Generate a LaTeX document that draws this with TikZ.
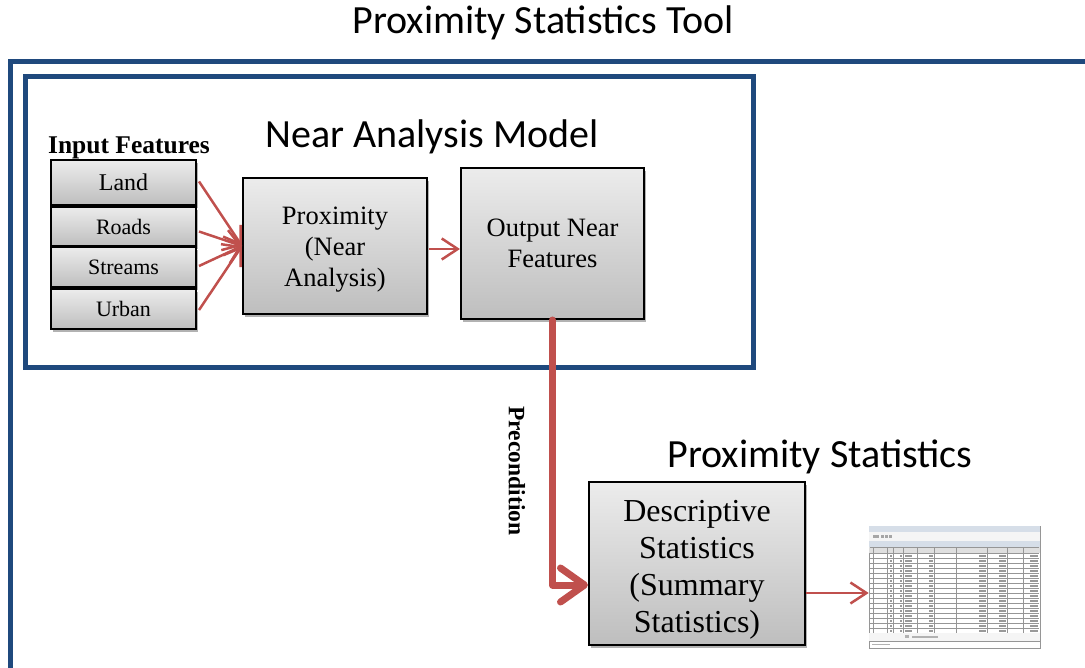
\documentclass[tikz,border=0pt]{standalone}
\usepackage{fontspec}
\setmainfont{Liberation Serif}
\newfontfamily\titlefont{Carlito}
\usetikzlibrary{arrows.meta,shadows,calc}
\definecolor{frameblue}{HTML}{1F497D}
\definecolor{flowred}{HTML}{C0504D}
\definecolor{boxtop}{RGB}{236,236,236}
\definecolor{boxbot}{RGB}{190,190,190}
\definecolor{winbar}{RGB}{214,222,232}
\definecolor{wingrid}{RGB}{150,150,150}

\tikzset{
  frame/.style={draw=frameblue, line width=5pt},
  gbox/.style={draw=black, line width=2pt, top color=boxtop, bottom color=boxbot,
    drop shadow={shadow xshift=2pt, shadow yshift=-3pt, opacity=0.3, fill=black},
    align=center, inner sep=0pt},
  inbox/.style={gbox, minimum width=145, font=\fontsize{22}{26}\selectfont},
  boxtext/.style={align=center, inner sep=0pt},
  heading/.style={font=\titlefont\fontsize{40}{46}\selectfont},
  thinflow/.style={draw=flowred, line width=2.5pt, -{Straight Barb[length=16pt,width=21pt]}},
  thickflow/.style={draw=flowred, line width=7pt, line cap=round, line join=round,
    -{Straight Barb[length=24pt,width=34pt,round]}},
}

\begin{document}
\begin{tikzpicture}[x=1pt, y=-1pt]
\useasboundingbox (0,0) rectangle (1085,668);

% frames
\draw[frame] (1095,62) -- (10,62) -- (10,678);
\draw[frame] (25,77) rectangle (753,368);

% headings
\node[heading] (title) at (543,23) {Proximity Statistics Tool};
\node[heading] (namodel) at (432,137) {Near Analysis Model};
\node[heading] (pstats) at (820,457) {Proximity Statistics};
\node[font=\bfseries\fontsize{25.5}{30}\selectfont] (inlabel) at (129,148) {Input Features};

% input feature boxes
\node[inbox, minimum height=45, font=\fontsize{24}{28}\selectfont] (land) at (123.5,182.5) {\raisebox{-3pt}{Land}};
\node[inbox, minimum height=39] (roads) at (123.5,226.5) {\raisebox{-2pt}{Roads}};
\node[inbox, minimum height=40] (streams) at (123.5,267) {\raisebox{-2pt}{Streams}};
\node[inbox, minimum height=40] (urban) at (123.5,309) {\raisebox{-3pt}{Urban}};

% process boxes
\node[gbox, minimum width=184, minimum height=136] (prox) at (335,246) {};
\node[boxtext, font=\fontsize{26.5}{31}\selectfont] (proxtext) at ([yshift=-4pt]prox.center)
  {Proximity\\(Near\\Analysis)};
\node[gbox, minimum width=183, minimum height=151, font=\fontsize{26.5}{31}\selectfont]
  (outnear) at (552.5,243.5) {Output Near\\Features};
\node[gbox, minimum width=216, minimum height=163] (desc) at (697,563.5) {};
\node[boxtext, font=\fontsize{32}{37}\selectfont] (desctext) at ([yshift=-6pt]desc.center)
  {Descriptive\\Statistics\\(Summary\\Statistics)};

% summary table window
\node[draw=wingrid, line width=0.6pt, fill=white, minimum width=171, minimum height=122, inner sep=0pt]
  (table) at (954.5,587) {};
\fill[winbar] (869,526) rectangle (1040,532);
\fill[gray!8] (869,532) rectangle (1040,541);
\fill[winbar] (869,541) rectangle (1040,547);
\foreach \x in {873,876,881,885,889}
  \fill[gray!70] (\x,535) rectangle ++(2.5,3);
\fill[gray!25] (869,547) rectangle (1040,553);
\foreach \i in {0,...,16}
  \draw[wingrid, line width=0.3pt] (870,553+5*\i) -- (1039,553+5*\i);
\draw[wingrid, line width=0.3pt] (870,547) -- (1039,547);
\foreach \x in {873,887,893,903,917,934,956,987,1007,1023}
  \draw[wingrid, line width=0.3pt] (\x,547) -- (\x,633);
\foreach \i in {0,...,15}{
  \fill[gray!80] (890,554.5+5*\i) rectangle ++(1.5,2);
  \fill[gray!80] (900,554.5+5*\i) rectangle ++(2,2);
  \fill[gray!80] (905,554.5+5*\i) rectangle ++(7,2);
  \fill[gray!80] (929,554.5+5*\i) rectangle ++(4,2);
  \fill[gray!80] (979,554.5+5*\i) rectangle ++(7,2);
  \fill[gray!80] (999,554.5+5*\i) rectangle ++(7,2);
  \fill[gray!80] (1030,554.5+5*\i) rectangle ++(8,2);
}
\fill[gray!8] (869,633) rectangle (1040,641);
\fill[gray!60] (905,635) rectangle ++(4,3);
\fill[gray!60] (912,636) rectangle ++(26,1.5);
\draw[wingrid, line width=0.3pt] (869,641) -- (1040,641);
\fill[gray!60] (872,643.5) rectangle ++(18,1.5);

% connectors
\draw[thinflow] ($(land.east)+(2,-1)$) -- (prox.west);
\draw[thinflow] ($(roads.east)+(2,5)$) -- (prox.west);
\draw[thinflow] ($(streams.east)+(2,-1)$) -- (prox.west);
\draw[thinflow] ($(urban.east)+(2,1)$) -- (prox.west);
\draw[thinflow] ($(prox.east)+(1,3)$) -- ($(outnear.west)+(0,5.5)$);
\draw[thickflow] (outnear.south) |- ([yshift=-21.5pt]desc.west);
\draw[thinflow] ([yshift=-29.5pt]desc.east) -- ([yshift=-29.5pt]desc.east -| table.west);

% connector label
\node[rotate=-90, font=\bfseries\fontsize{23.5}{28}\selectfont] (precond) at (517,471) {Precondition};
\end{tikzpicture}
\end{document}
